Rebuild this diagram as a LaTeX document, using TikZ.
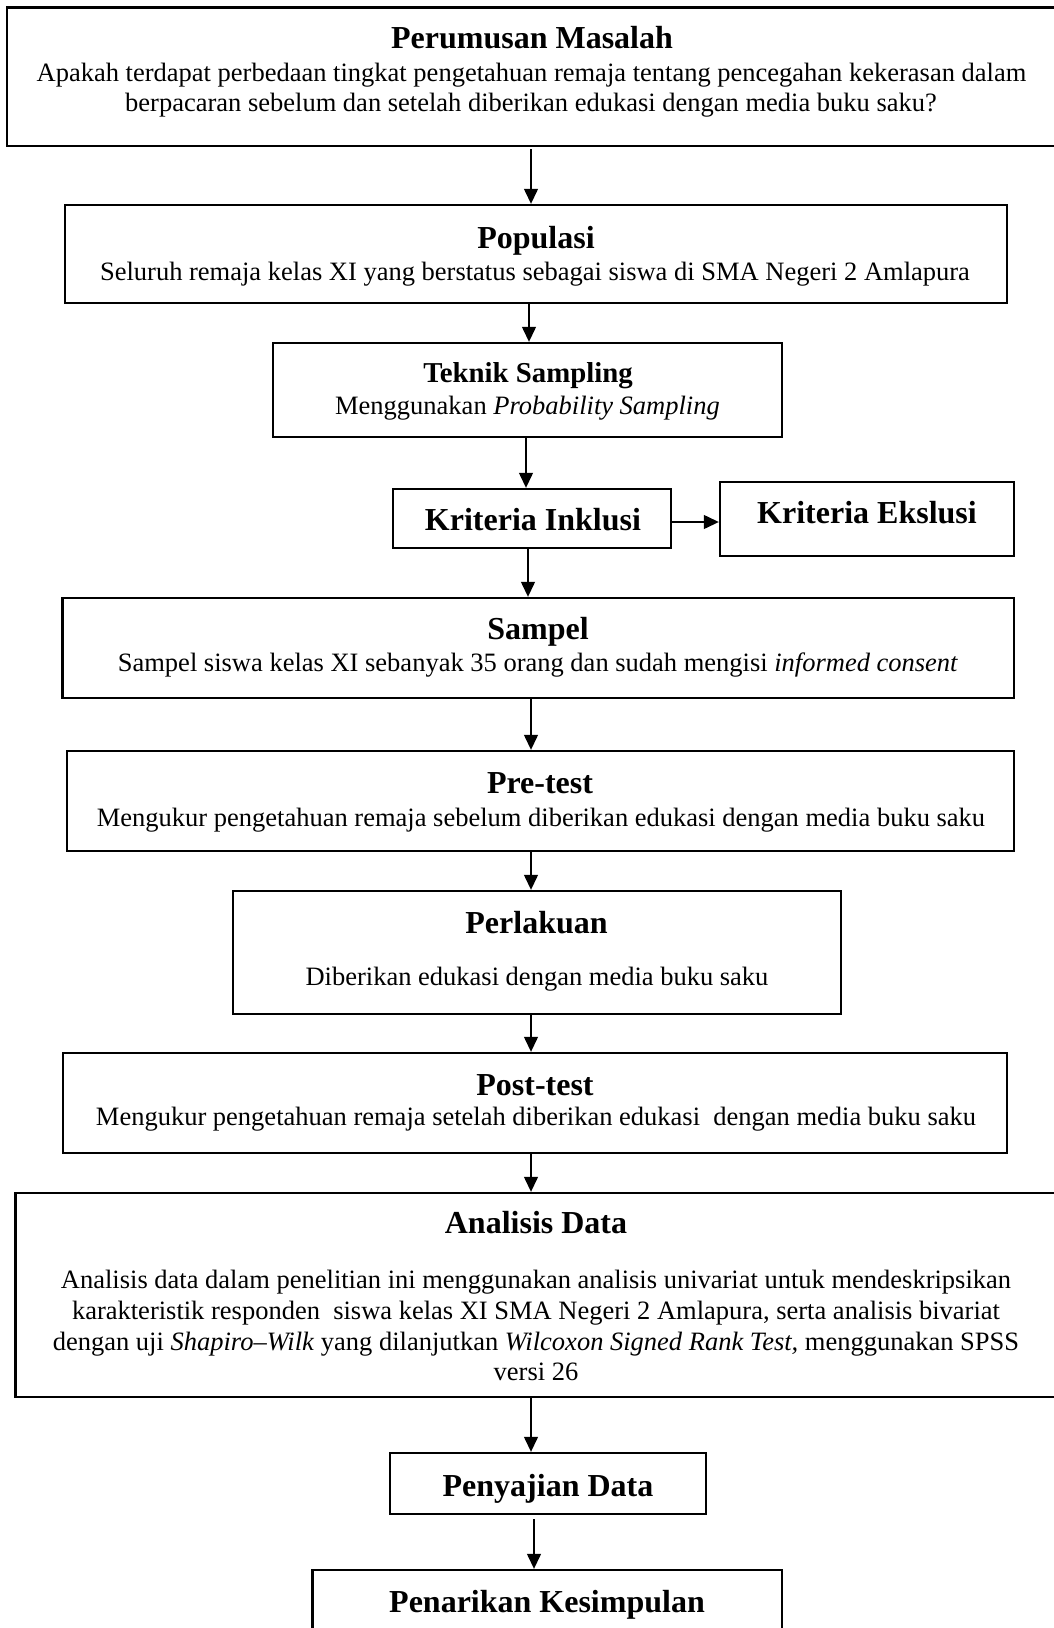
\documentclass[tikz,border=0pt]{standalone}
\usepackage{fontspec}
\setmainfont{Liberation Serif}
\usetikzlibrary{arrows.meta}
\tikzset{
  box/.style={draw, line width=2.4pt, rectangle, inner sep=0pt},
  ttl/.style={font=\bfseries\fontsize{32}{37}\selectfont, anchor=base, inner sep=0pt},
  ttls/.style={font=\bfseries\fontsize{28.8}{33}\selectfont, anchor=base, inner sep=0pt},
  bdy/.style={font=\fontsize{26.5}{31}\selectfont, anchor=base, inner sep=0pt},
  arr/.style={line width=1.3pt, -{Triangle[length=15pt,width=14pt]}}
}
\begin{document}
\begin{tikzpicture}[x=1pt,y=-1pt]
\useasboundingbox (0,0) rectangle (1054,1628);
% boxes
\node[box, minimum width=1053pt, minimum height=138.5pt] (b1) at (533.5,76.75) {};
\node[box, minimum width=942pt, minimum height=98pt] (pop) at (536,254) {};
\node[box, minimum width=509pt, minimum height=94pt] (tek) at (527.5,390) {};
\node[box, minimum width=278pt, minimum height=59pt] (ink) at (532,518.5) {};
\node[box, minimum width=294pt, minimum height=74pt] (eks) at (867,519) {};
\node[box, minimum width=951.5pt, minimum height=100pt] (samp) at (538.25,648) {};
\node[box, minimum width=947pt, minimum height=100pt] (pre) at (540.5,801) {};
\node[box, minimum width=608pt, minimum height=123pt] (perl) at (537,952.5) {};
\node[box, minimum width=944pt, minimum height=100pt] (post) at (535,1103) {};
\node[box, minimum width=1044.5pt, minimum height=204pt] (anal) at (537.75,1295) {};
\node[box, minimum width=316pt, minimum height=61pt] (peny) at (548,1483.5) {};
\node[box, minimum width=469.5pt, minimum height=90pt] (pen) at (547.25,1615) {};
% texts
\node[ttl] (t1) at (532,48.5) {Perumusan Masalah};
\node[bdy] (t1a) at (531.5,81.5) {Apakah terdapat perbedaan tingkat pengetahuan remaja tentang pencegahan kekerasan dalam};
\node[bdy] (t1b) at (531,111) {berpacaran sebelum dan setelah diberikan edukasi dengan media buku saku?};
\node[ttl] (t2) at (536,248.5) {Populasi};
\node[bdy] (t2a) at (535,280.5) {Seluruh remaja kelas XI yang berstatus sebagai siswa di SMA Negeri 2 Amlapura};
\node[ttls] (t3) at (528,382.5) {Teknik Sampling};
\node[bdy] (t3a) at (527.5,414.5) {Menggunakan \textit{Probability Sampling}};
\node[ttl] (t4) at (533,530.5) {Kriteria Inklusi};
\node[ttl] (t5) at (867,523.5) {Kriteria Ekslusi};
\node[ttl] (t6) at (538,639.5) {Sampel};
\node[bdy] (t6a) at (538,671.5) {Sampel siswa kelas XI sebanyak 35 orang dan sudah mengisi \textit{informed consent}};
\node[ttl] (t7) at (540,793.5) {Pre-test};
\node[bdy] (t7a) at (541,826.5) {Mengukur pengetahuan remaja sebelum diberikan edukasi dengan media buku saku};
\node[ttl] (t8) at (536.5,933.5) {Perlakuan};
\node[bdy] (t8a) at (537,985.5) {Diberikan edukasi dengan media buku saku};
\node[ttl] (t9) at (535,1095.5) {Post-test};
\node[bdy] (t9a) at (536,1125.5) {Mengukur pengetahuan remaja setelah diberikan edukasi\ \ dengan media buku saku};
\node[ttl] (t10) at (536,1233.5) {Analisis Data};
\node[bdy] (t10a) at (536,1288.5) {Analisis data dalam penelitian ini menggunakan analisis univariat untuk mendeskripsikan};
\node[bdy] (t10b) at (536,1319.5) {karakteristik responden\ \ siswa kelas XI SMA Negeri 2 Amlapura, serta analisis bivariat};
\node[bdy] (t10c) at (536,1350.5) {dengan uji \textit{Shapiro–Wilk} yang dilanjutkan \textit{Wilcoxon Signed Rank Test,} menggunakan SPSS};
\node[bdy] (t10d) at (536,1380.5) {versi 26};
\node[ttl] (t11) at (548,1496.5) {Penyajian Data};
\node[ttl] (t12) at (547,1612.5) {Penarikan Kesimpulan};
% arrow columns
\coordinate (c531) at (531,0);
\coordinate (c529) at (529,0);
\coordinate (c526) at (526,0);
\coordinate (c528) at (528,0);
\coordinate (c534) at (534,0);
\coordinate (r522) at (0,522);
% arrows
\draw[arr] (b1.south -| c531) ++(0,2) -- (pop.north -| c531);
\draw[arr] (pop.south -| c529) -- (tek.north -| c529);
\draw[arr] (tek.south -| c526) -- (ink.north -| c526);
\draw[arr] (ink.east |- r522) -- (eks.west |- r522);
\draw[arr] (ink.south -| c528) -- (samp.north -| c528);
\draw[arr] (samp.south -| c531) -- (pre.north -| c531);
\draw[arr] (pre.south -| c531) -- (perl.north -| c531);
\draw[arr] (perl.south -| c531) -- (post.north -| c531);
\draw[arr] (post.south -| c531) -- (anal.north -| c531);
\draw[arr] (anal.south -| c531) -- (peny.north -| c531);
\draw[arr] (peny.south -| c534) ++(0,4) -- (pen.north -| c534);
\end{tikzpicture}
\end{document}
